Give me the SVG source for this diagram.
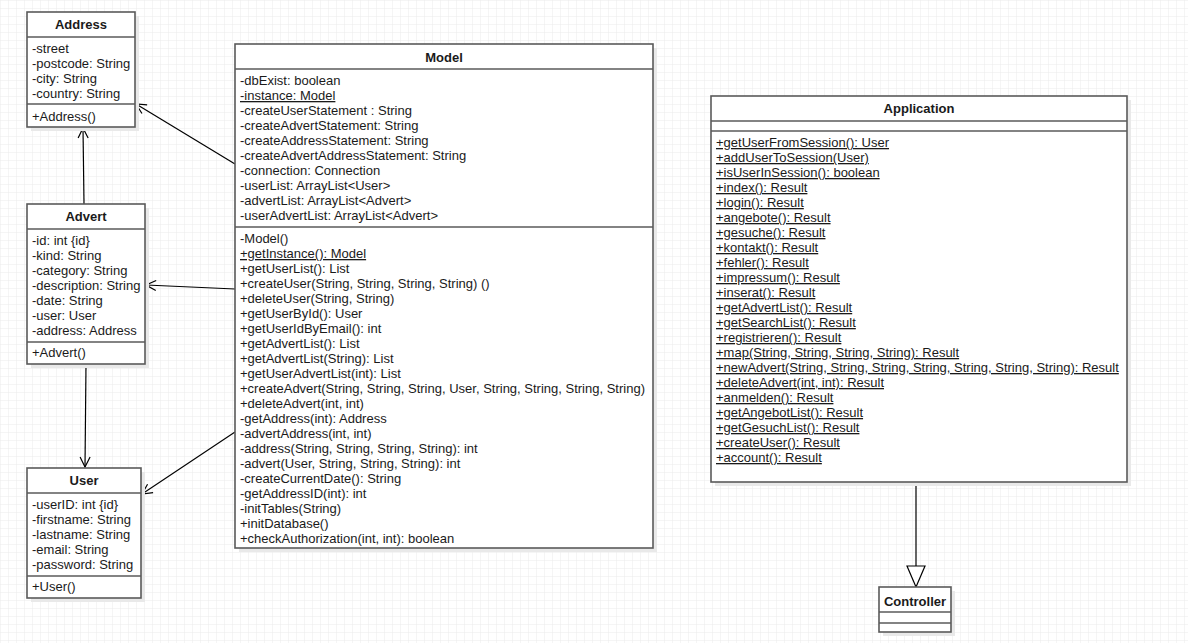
<svg xmlns="http://www.w3.org/2000/svg" width="1188" height="643" viewBox="0 0 1188 643">
<defs>
<pattern id="grid" width="8" height="8" patternUnits="userSpaceOnUse">
<rect width="8" height="8" fill="#ffffff"/>
<path d="M8,0 L0,0 L0,8" fill="none" stroke="#ebebeb" stroke-width="1"/>
</pattern>
<marker id="open" viewBox="0 0 12 12" refX="11" refY="6" markerWidth="12" markerHeight="12" markerUnits="userSpaceOnUse" orient="auto">
<path d="M1,1 L11,6 L1,11" fill="none" stroke="#000" stroke-width="1.2"/>
</marker>
<style>
.box{fill:#ffffff;stroke:#5a5a5a;stroke-width:1.6}
.sh{fill:#e9e9e9}
.sep{stroke:#5a5a5a;stroke-width:1.6}
.t{font-family:"Liberation Sans",Arial,sans-serif;font-size:13px;fill:#1a1a1a}
.h{font-family:"Liberation Sans",Arial,sans-serif;font-size:13px;font-weight:bold;fill:#1a1a1a;text-anchor:middle}
.u{text-decoration:underline}
.c{stroke:#000;stroke-width:1.2;fill:none}
</style>
</defs>
<rect width="1188" height="643" fill="url(#grid)"/>

<g id="connectors">
<line class="c" x1="235" y1="164" x2="136" y2="104" marker-end="url(#open)"/>
<line class="c" x1="84" y1="204" x2="83" y2="128" marker-end="url(#open)"/>
<line class="c" x1="235" y1="289" x2="146" y2="285" marker-end="url(#open)"/>
<line class="c" x1="86" y1="364" x2="85" y2="467" marker-end="url(#open)"/>
<line class="c" x1="235" y1="432" x2="142" y2="494" marker-end="url(#open)"/>
<line class="c" x1="916" y1="482" x2="916" y2="566"/>
<polygon points="907,566 925,566 916,587" fill="#ffffff" stroke="#000" stroke-width="1.2"/>
</g>

<g id="Address">
<rect class="sh" x="31" y="16" width="108" height="115"/>
<rect class="box" x="27" y="12" width="108" height="115"/>
<line class="sep" x1="27" y1="37" x2="135" y2="37"/>
<line class="sep" x1="27" y1="104" x2="135" y2="104"/>
<text class="h" x="81" y="29">Address</text>
<text class="t" x="32" y="53">-street</text>
<text class="t" x="32" y="68">-postcode: String</text>
<text class="t" x="32" y="83">-city: String</text>
<text class="t" x="32" y="98">-country: String</text>
<text class="t" x="32" y="121">+Address()</text>
</g>

<g id="Advert">
<rect class="sh" x="31" y="208" width="118" height="160"/>
<rect class="box" x="27" y="204" width="118" height="160"/>
<line class="sep" x1="27" y1="229" x2="145" y2="229"/>
<line class="sep" x1="27" y1="342" x2="145" y2="342"/>
<text class="h" x="86" y="221">Advert</text>
<text class="t" x="32" y="245">-id: int {id}</text>
<text class="t" x="32" y="260">-kind: String</text>
<text class="t" x="32" y="275">-category: String</text>
<text class="t" x="32" y="290">-description: String</text>
<text class="t" x="32" y="305">-date: String</text>
<text class="t" x="32" y="320">-user: User</text>
<text class="t" x="32" y="335">-address: Address</text>
<text class="t" x="32" y="357">+Advert()</text>
</g>

<g id="User">
<rect class="sh" x="31" y="472" width="114" height="130"/>
<rect class="box" x="27" y="468" width="114" height="130"/>
<line class="sep" x1="27" y1="493" x2="141" y2="493"/>
<line class="sep" x1="27" y1="576" x2="141" y2="576"/>
<text class="h" x="84" y="485">User</text>
<text class="t" x="32" y="509">-userID: int {id}</text>
<text class="t" x="32" y="524">-firstname: String</text>
<text class="t" x="32" y="539">-lastname: String</text>
<text class="t" x="32" y="554">-email: String</text>
<text class="t" x="32" y="569">-password: String</text>
<text class="t" x="32" y="591">+User()</text>
</g>

<g id="Model">
<rect class="sh" x="239" y="48" width="418" height="504"/>
<rect class="box" x="235" y="44" width="418" height="504"/>
<line class="sep" x1="235" y1="69" x2="653" y2="69"/>
<line class="sep" x1="235" y1="227" x2="653" y2="227"/>
<text class="h" x="444" y="62">Model</text>
<text class="t" x="240" y="85">-dbExist: boolean</text>
<text class="t u" x="240" y="100">-instance: Model</text>
<text class="t" x="240" y="115">-createUserStatement : String</text>
<text class="t" x="240" y="130">-createAdvertStatement: String</text>
<text class="t" x="240" y="145">-createAddressStatement: String</text>
<text class="t" x="240" y="160">-createAdvertAddressStatement: String</text>
<text class="t" x="240" y="175">-connection: Connection</text>
<text class="t" x="240" y="190">-userList: ArrayList&lt;User&gt;</text>
<text class="t" x="240" y="205">-advertList: ArrayList&lt;Advert&gt;</text>
<text class="t" x="240" y="220">-userAdvertList: ArrayList&lt;Advert&gt;</text>
<text class="t" x="240" y="243">-Model()</text>
<text class="t u" x="240" y="258">+getInstance(): Model</text>
<text class="t" x="240" y="273">+getUserList(): List</text>
<text class="t" x="240" y="288">+createUser(String, String, String, String) ()</text>
<text class="t" x="240" y="303">+deleteUser(String, String)</text>
<text class="t" x="240" y="318">+getUserById(): User</text>
<text class="t" x="240" y="333">+getUserIdByEmail(): int</text>
<text class="t" x="240" y="348">+getAdvertList(): List</text>
<text class="t" x="240" y="363">+getAdvertList(String): List</text>
<text class="t" x="240" y="378">+getUserAdvertList(int): List</text>
<text class="t" x="240" y="393">+createAdvert(String, String, String, User, String, String, String, String)</text>
<text class="t" x="240" y="408">+deleteAdvert(int, int)</text>
<text class="t" x="240" y="423">-getAddress(int): Address</text>
<text class="t" x="240" y="438">-advertAddress(int, int)</text>
<text class="t" x="240" y="453">-address(String, String, String, String): int</text>
<text class="t" x="240" y="468">-advert(User, String, String, String): int</text>
<text class="t" x="240" y="483">-createCurrentDate(): String</text>
<text class="t" x="240" y="498">-getAddressID(int): int</text>
<text class="t" x="240" y="513">-initTables(String)</text>
<text class="t" x="240" y="528">+initDatabase()</text>
<text class="t" x="240" y="543">+checkAuthorization(int, int): boolean</text>
</g>

<g id="Application">
<rect class="sh" x="715" y="100" width="416" height="386"/>
<rect class="box" x="711" y="96" width="416" height="386"/>
<line class="sep" x1="711" y1="121" x2="1127" y2="121"/>
<line class="sep" x1="711" y1="131" x2="1127" y2="131"/>
<text class="h" x="919" y="113">Application</text>
<text class="t u" x="716" y="147">+getUserFromSession(): User</text>
<text class="t u" x="716" y="162">+addUserToSession(User)</text>
<text class="t u" x="716" y="177">+isUserInSession(): boolean</text>
<text class="t u" x="716" y="192">+index(): Result</text>
<text class="t u" x="716" y="207">+login(): Result</text>
<text class="t u" x="716" y="222">+angebote(): Result</text>
<text class="t u" x="716" y="237">+gesuche(): Result</text>
<text class="t u" x="716" y="252">+kontakt(): Result</text>
<text class="t u" x="716" y="267">+fehler(): Result</text>
<text class="t u" x="716" y="282">+impressum(): Result</text>
<text class="t u" x="716" y="297">+inserat(): Result</text>
<text class="t u" x="716" y="312">+getAdvertList(): Result</text>
<text class="t u" x="716" y="327">+getSearchList(): Result</text>
<text class="t u" x="716" y="342">+registrieren(): Result</text>
<text class="t u" x="716" y="357">+map(String, String, String, String): Result</text>
<text class="t u" x="716" y="372">+newAdvert(String, String, String, String, String, String, String): Result</text>
<text class="t u" x="716" y="387">+deleteAdvert(int, int): Result</text>
<text class="t u" x="716" y="402">+anmelden(): Result</text>
<text class="t u" x="716" y="417">+getAngebotList(): Result</text>
<text class="t u" x="716" y="432">+getGesuchList(): Result</text>
<text class="t u" x="716" y="447">+createUser(): Result</text>
<text class="t u" x="716" y="462">+account(): Result</text>
</g>

<g id="Controller">
<rect class="sh" x="883" y="591" width="72" height="45"/>
<rect class="box" x="879" y="587" width="72" height="45"/>
<line class="sep" x1="879" y1="612" x2="951" y2="612"/>
<line class="sep" x1="879" y1="623" x2="951" y2="623"/>
<text class="h" x="915" y="606">Controller</text>
</g>
</svg>
